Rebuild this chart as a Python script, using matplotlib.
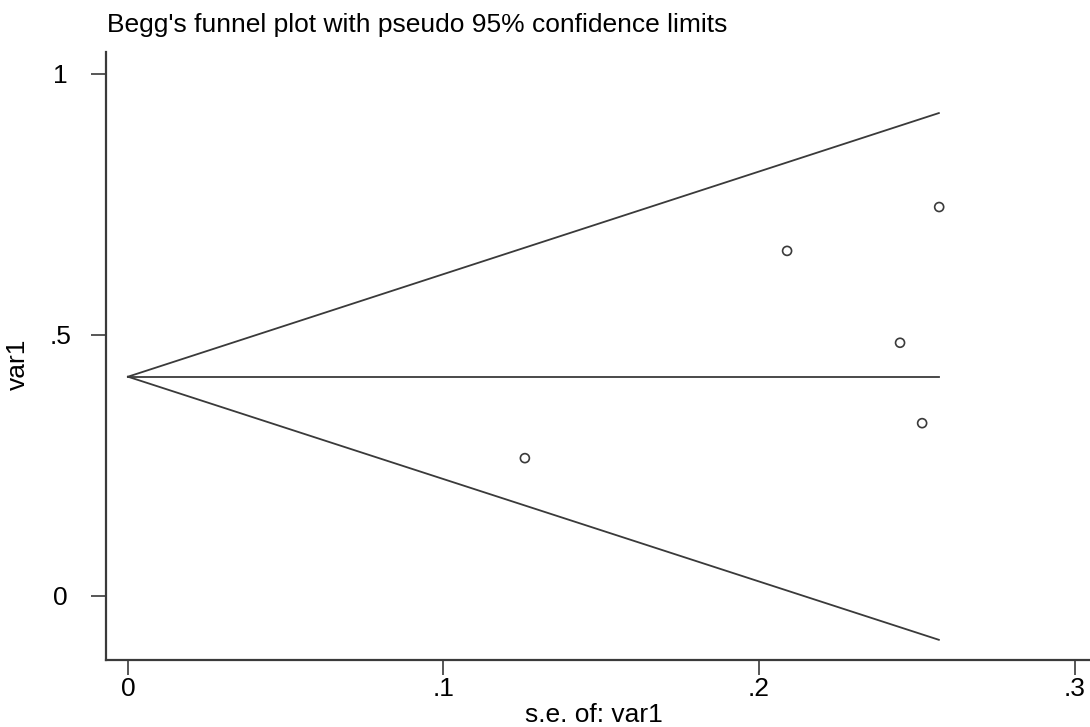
import matplotlib
matplotlib.use('Agg')
import matplotlib.pyplot as plt

# study estimates
se = [0.1258, 0.2089, 0.2447, 0.2517, 0.2571]
effect = [0.264, 0.661, 0.485, 0.331, 0.745]

# pooled line and pseudo 95% limits (endpoints)
line_se = [0.0, 0.257]
pooled = [0.42, 0.42]
upper = [0.42, 0.925]
lower = [0.42, -0.084]

x_ticks = [0, 0.1, 0.2, 0.3]
x_labels = ['0', '.1', '.2', '.3']
y_ticks = [0, 0.5, 1]
y_labels = ['0', '.5', '1']

plt.rcParams['font.family'] = ['Liberation Sans', 'DejaVu Sans']
col = '#3a3a3a'
fs = 19

fig = plt.figure(figsize=(10.9, 7.27), dpi=100)
ax = fig.add_axes([0.0972, 0.0922, 0.9028, 0.8363])

ax.plot(line_se, upper, color=col, lw=1.3)
ax.plot(line_se, lower, color=col, lw=1.3)
ax.plot(line_se, pooled, color=col, lw=1.3)
ax.scatter(se, effect, s=42, facecolors='none', edgecolors=col, linewidths=1.2, zorder=3)

ax.set_xlim(-0.00697, 0.3049)
ax.set_ylim(-0.1226, 1.042)
ax.set_xticks(x_ticks)
ax.set_xticklabels(x_labels)
ax.set_yticks(y_ticks)
ax.set_yticklabels(y_labels, ha='center')
ax.tick_params(direction='out', length=11, width=1.2, color=col, labelsize=fs)
ax.tick_params(axis='x', pad=1)
ax.tick_params(axis='y', pad=22)

for side in ['top', 'right']:
    ax.spines[side].set_visible(False)
for side in ['left', 'bottom']:
    ax.spines[side].set_color(col)
    ax.spines[side].set_linewidth(1.6)

fig.text(0.5445, 0.0062, 's.e. of: var1', fontsize=fs, ha='center', va='baseline')
fig.text(0.0165, 0.4995, 'var1', fontsize=fs, rotation=90, ha='center', va='center')
fig.text(0.098, 0.966, "Begg's funnel plot with pseudo 95% confidence limits",
         fontsize=fs, ha='left', va='center')

fig.savefig('out.png', dpi=100)
